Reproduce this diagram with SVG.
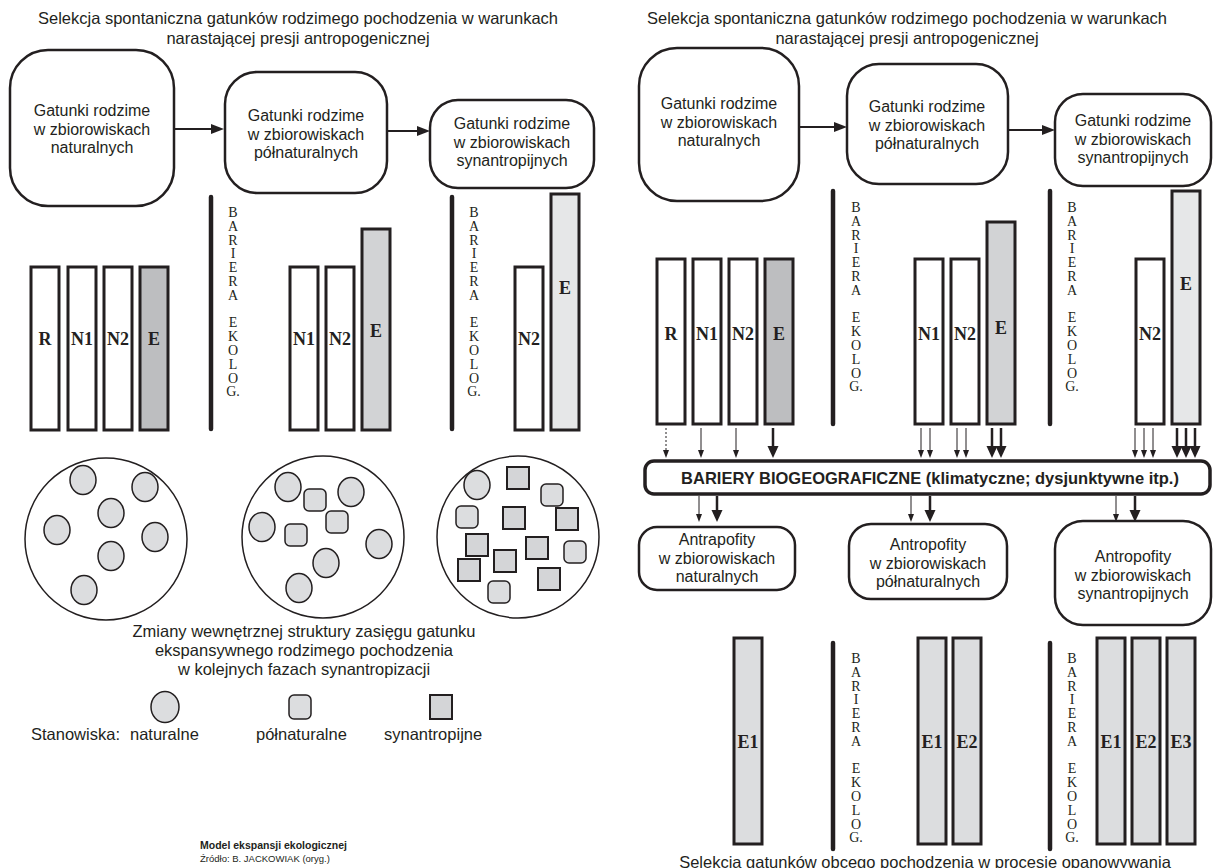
<svg xmlns="http://www.w3.org/2000/svg" width="1215" height="868" viewBox="0 0 1215 868">
<style>
.t{font-family:"Liberation Sans",Arial,sans-serif;font-size:16.5px;fill:#231f20;text-anchor:middle}
.bt{font-family:"Liberation Sans",Arial,sans-serif;font-size:16px;fill:#231f20;text-anchor:middle}
.box{fill:#fff;stroke:#231f20;stroke-width:2.5}
.bar{stroke:#231f20;stroke-width:3}
.w{fill:#fff}.g1{fill:#bdbec0}.g2{fill:#d2d3d5}.g3{fill:#e6e7e8}.g4{fill:#dcdddf}
.bl{font-family:"Liberation Serif","Times New Roman",serif;font-weight:bold;font-size:18px;fill:#231f20;text-anchor:middle}
.vt{font-family:"Liberation Serif","Times New Roman",serif;font-size:14px;fill:#231f20;text-anchor:middle}
.bar-line{stroke:#231f20;stroke-width:4.5;stroke-linecap:round}
.big{fill:#fff;stroke:#231f20;stroke-width:1.5}
.sc{fill:#dcdddf;stroke:#231f20;stroke-width:1.5}
.sr{fill:#dcdddf;stroke:#231f20;stroke-width:1.5}
.ss{fill:#d4d5d7;stroke:#231f20;stroke-width:2}
.conn{stroke:#231f20;stroke-width:2;fill:none}
.thin{stroke:#231f20;stroke-width:1;fill:none}
.dot{stroke:#231f20;stroke-width:1;fill:none;stroke-dasharray:2 2}
.thick{stroke:#231f20;stroke-width:2.5;fill:none}
</style>
<defs>
<marker id="mConn" markerUnits="userSpaceOnUse" markerWidth="13" markerHeight="11" refX="0" refY="5" orient="auto"><path d="M0,0 L13,5 L0,10 z" fill="#231f20"/></marker>
<marker id="mThin" markerUnits="userSpaceOnUse" markerWidth="8" markerHeight="7" refX="0" refY="3" orient="auto"><path d="M0,0 L8,3 L0,6 z" fill="#231f20"/></marker>
<marker id="mThick" markerUnits="userSpaceOnUse" markerWidth="12" markerHeight="12" refX="0" refY="5.5" orient="auto"><path d="M0,0 L12,5.5 L0,11 z" fill="#231f20"/></marker>
</defs>
<rect width="1215" height="868" fill="#fff"/>

<!-- LEFT PANEL -->
<g id="title-left">
<text class="t" x="298" y="24">Selekcja spontaniczna gatunków rodzimego pochodzenia w warunkach</text>
<text class="t" x="298" y="44">narastającej presji antropogenicznej</text>
</g>
<g id="L-box-nat">
<rect class="box" x="10" y="50" width="164" height="156" rx="38"/>
<text class="bt" x="92" y="116">Gatunki rodzime</text>
<text class="bt" x="92" y="134.5">w zbiorowiskach</text>
<text class="bt" x="92" y="153">naturalnych</text>
</g>
<g id="L-box-polnat">
<rect class="box" x="225" y="72" width="162" height="121" rx="32"/>
<text class="bt" x="306" y="121">Gatunki rodzime</text>
<text class="bt" x="306" y="139.5">w zbiorowiskach</text>
<text class="bt" x="306" y="158">półnaturalnych</text>
</g>
<g id="L-box-syn">
<rect class="box" x="430" y="100" width="164" height="88" rx="28"/>
<text class="bt" x="512" y="129">Gatunki rodzime</text>
<text class="bt" x="512" y="147.5">w zbiorowiskach</text>
<text class="bt" x="512" y="166">synantropijnych</text>
</g>

<g id="L-bars-1">
<rect class="bar w" x="31" y="267" width="28" height="163"/>
<rect class="bar w" x="68" y="267" width="28" height="163"/>
<rect class="bar w" x="104" y="267" width="28" height="163"/>
<rect class="bar g1" x="140" y="267" width="28" height="163"/>
<text class="bl" x="45" y="345">R</text>
<text class="bl" x="82" y="345">N1</text>
<text class="bl" x="118" y="345">N2</text>
<text class="bl" x="154" y="345">E</text>
</g>
<g id="L-barrier-1">
<line class="bar-line" x1="211" y1="197" x2="211" y2="429"/>
<text class="vt" y="217"><tspan x="233">B</tspan><tspan x="233" dy="13.8">A</tspan><tspan x="233" dy="13.8">R</tspan><tspan x="233" dy="13.8">I</tspan><tspan x="233" dy="13.8">E</tspan><tspan x="233" dy="13.8">R</tspan><tspan x="233" dy="13.8">A</tspan><tspan x="233" dy="27.6">E</tspan><tspan x="233" dy="13.8">K</tspan><tspan x="233" dy="13.8">O</tspan><tspan x="233" dy="13.8">L</tspan><tspan x="233" dy="13.8">O</tspan><tspan x="233" dy="13.8">G.</tspan></text>
</g>
<g id="L-bars-2">
<rect class="bar w" x="290" y="267" width="28" height="163"/>
<rect class="bar w" x="326" y="267" width="28" height="163"/>
<rect class="bar g2" x="362" y="229" width="28" height="201"/>
<text class="bl" x="304" y="345">N1</text>
<text class="bl" x="340" y="345">N2</text>
<text class="bl" x="376" y="337">E</text>
</g>
<g id="L-barrier-2">
<line class="bar-line" x1="452" y1="197" x2="452" y2="429"/>
<text class="vt" y="217"><tspan x="474">B</tspan><tspan x="474" dy="13.8">A</tspan><tspan x="474" dy="13.8">R</tspan><tspan x="474" dy="13.8">I</tspan><tspan x="474" dy="13.8">E</tspan><tspan x="474" dy="13.8">R</tspan><tspan x="474" dy="13.8">A</tspan><tspan x="474" dy="27.6">E</tspan><tspan x="474" dy="13.8">K</tspan><tspan x="474" dy="13.8">O</tspan><tspan x="474" dy="13.8">L</tspan><tspan x="474" dy="13.8">O</tspan><tspan x="474" dy="13.8">G.</tspan></text>
</g>
<g id="L-bars-3">
<rect class="bar w" x="515" y="267" width="28" height="163"/>
<rect class="bar g3" x="551" y="194" width="28" height="236"/>
<text class="bl" x="529" y="345">N2</text>
<text class="bl" x="565" y="294">E</text>
</g>

<g id="range-1">
<circle class="big" cx="106" cy="539" r="81"/>
<ellipse class="sc" cx="83" cy="480" rx="13" ry="14.5"/>
<ellipse class="sc" cx="145" cy="487" rx="13" ry="14.5"/>
<ellipse class="sc" cx="111" cy="513" rx="13" ry="14.5"/>
<ellipse class="sc" cx="57" cy="530" rx="13" ry="14.5"/>
<ellipse class="sc" cx="155" cy="537" rx="13" ry="14.5"/>
<ellipse class="sc" cx="111" cy="556" rx="13" ry="14.5"/>
<ellipse class="sc" cx="84" cy="590" rx="13" ry="14.5"/>
</g>
<g id="range-2">
<circle class="big" cx="323" cy="537" r="81"/>
<ellipse class="sc" cx="288" cy="487" rx="13" ry="14.5"/>
<ellipse class="sc" cx="351" cy="492" rx="13" ry="14.5"/>
<ellipse class="sc" cx="262" cy="527" rx="13" ry="14.5"/>
<ellipse class="sc" cx="379" cy="544" rx="13" ry="14.5"/>
<ellipse class="sc" cx="326" cy="563" rx="13" ry="14.5"/>
<ellipse class="sc" cx="299" cy="588" rx="13" ry="14.5"/>
<rect class="sr" x="304" y="489" width="22" height="22" rx="5"/>
<rect class="sr" x="326" y="511" width="22" height="22" rx="5"/>
<rect class="sr" x="285" y="524" width="22" height="22" rx="5"/>
</g>
<g id="range-3">
<circle class="big" cx="518" cy="537" r="81"/>
<ellipse class="sc" cx="477" cy="485" rx="13" ry="14.5"/>
<rect class="ss" x="507" y="467" width="22" height="22"/>
<rect class="sr" x="541" y="484" width="22" height="22" rx="5"/>
<rect class="sr" x="456" y="506" width="22" height="22" rx="5"/>
<rect class="ss" x="503" y="507" width="22" height="22"/>
<rect class="ss" x="556" y="508" width="22" height="22"/>
<rect class="ss" x="466" y="534" width="22" height="22"/>
<rect class="ss" x="526" y="537" width="22" height="22"/>
<rect class="sr" x="564" y="541" width="22" height="22" rx="5"/>
<rect class="ss" x="494" y="550" width="22" height="22"/>
<rect class="ss" x="458" y="559" width="22" height="22"/>
<rect class="ss" x="538" y="568" width="22" height="22"/>
<rect class="sr" x="488" y="581" width="22" height="22" rx="5"/>
</g>
<g id="range-caption">
<text class="t" x="304" y="637">Zmiany wewnętrznej struktury zasięgu gatunku</text>
<text class="t" x="304" y="656">ekspansywnego rodzimego pochodzenia</text>
<text class="t" x="304" y="675">w kolejnych fazach synantropizacji</text>
</g>
<g id="legend">
<ellipse class="sc" cx="165" cy="707" rx="14" ry="15.5"/>
<rect class="sr" x="289" y="695" width="22" height="24" rx="5"/>
<rect class="ss" x="430" y="695" width="22" height="24"/>
<text class="t" x="31" y="740" style="text-anchor:start">Stanowiska:</text>
<text class="t" x="130" y="740" style="text-anchor:start">naturalne</text>
<text class="t" x="256" y="740" style="text-anchor:start">półnaturalne</text>
<text class="t" x="384" y="740" style="text-anchor:start">synantropijne</text>
</g>
<g id="source">
<text x="200" y="849" style="font-family:'Liberation Sans',Arial,sans-serif;font-size:10.5px;font-weight:bold;fill:#231f20">Model ekspansji ekologicznej</text>
<text x="200" y="862" style="font-family:'Liberation Sans',Arial,sans-serif;font-size:9.5px;fill:#231f20">Źródło: B. JACKOWIAK (oryg.)</text>
</g>

<!-- RIGHT PANEL -->
<g id="title-right">
<text class="t" x="907" y="24">Selekcja spontaniczna gatunków rodzimego pochodzenia w warunkach</text>
<text class="t" x="907" y="44">narastającej presji antropogenicznej</text>
</g>
<g id="R-box-nat">
<rect class="box" x="639" y="48" width="160" height="153" rx="38"/>
<text class="bt" x="719" y="109">Gatunki rodzime</text>
<text class="bt" x="719" y="127.5">w zbiorowiskach</text>
<text class="bt" x="719" y="146">naturalnych</text>
</g>
<g id="R-box-polnat">
<rect class="box" x="847" y="64" width="161" height="120" rx="32"/>
<text class="bt" x="927" y="112">Gatunki rodzime</text>
<text class="bt" x="927" y="130.5">w zbiorowiskach</text>
<text class="bt" x="927" y="149">półnaturalnych</text>
</g>
<g id="R-box-syn">
<rect class="box" x="1055" y="94" width="156" height="92" rx="28"/>
<text class="bt" x="1133" y="126">Gatunki rodzime</text>
<text class="bt" x="1133" y="144.5">w zbiorowiskach</text>
<text class="bt" x="1133" y="163">synantropijnych</text>
</g>

<g id="R-bars-1">
<rect class="bar w" x="657" y="259" width="28" height="165"/>
<rect class="bar w" x="693" y="259" width="28" height="165"/>
<rect class="bar w" x="729" y="259" width="28" height="165"/>
<rect class="bar g1" x="765" y="259" width="28" height="165"/>
<text class="bl" x="671" y="340">R</text>
<text class="bl" x="707" y="340">N1</text>
<text class="bl" x="743" y="340">N2</text>
<text class="bl" x="779" y="340">E</text>
</g>
<g id="R-barrier-1">
<line class="bar-line" x1="833" y1="191" x2="833" y2="424"/>
<text class="vt" y="212"><tspan x="856">B</tspan><tspan x="856" dy="13.8">A</tspan><tspan x="856" dy="13.8">R</tspan><tspan x="856" dy="13.8">I</tspan><tspan x="856" dy="13.8">E</tspan><tspan x="856" dy="13.8">R</tspan><tspan x="856" dy="13.8">A</tspan><tspan x="856" dy="27.6">E</tspan><tspan x="856" dy="13.8">K</tspan><tspan x="856" dy="13.8">O</tspan><tspan x="856" dy="13.8">L</tspan><tspan x="856" dy="13.8">O</tspan><tspan x="856" dy="13.8">G.</tspan></text>
</g>
<g id="R-bars-2">
<rect class="bar w" x="915" y="259" width="28" height="165"/>
<rect class="bar w" x="951" y="259" width="28" height="165"/>
<rect class="bar g2" x="987" y="222" width="28" height="202"/>
<text class="bl" x="929" y="340">N1</text>
<text class="bl" x="965" y="340">N2</text>
<text class="bl" x="1001" y="334">E</text>
</g>
<g id="R-barrier-2">
<line class="bar-line" x1="1050" y1="191" x2="1050" y2="424"/>
<text class="vt" y="212"><tspan x="1072">B</tspan><tspan x="1072" dy="13.8">A</tspan><tspan x="1072" dy="13.8">R</tspan><tspan x="1072" dy="13.8">I</tspan><tspan x="1072" dy="13.8">E</tspan><tspan x="1072" dy="13.8">R</tspan><tspan x="1072" dy="13.8">A</tspan><tspan x="1072" dy="27.6">E</tspan><tspan x="1072" dy="13.8">K</tspan><tspan x="1072" dy="13.8">O</tspan><tspan x="1072" dy="13.8">L</tspan><tspan x="1072" dy="13.8">O</tspan><tspan x="1072" dy="13.8">G.</tspan></text>
</g>
<g id="R-bars-3">
<rect class="bar w" x="1136" y="259" width="28" height="165"/>
<rect class="bar g3" x="1172" y="191" width="28" height="233"/>
<text class="bl" x="1186" y="290">E</text>
<text class="bl" x="1150" y="340">N2</text>
</g>

<g id="bariery-bio">
<rect x="645" y="461" width="565" height="33" rx="9" fill="#fff" stroke="#231f20" stroke-width="3.5"/>
<text x="930" y="484" style="font-family:'Liberation Sans',Arial,sans-serif;font-size:16.5px;font-weight:bold;fill:#231f20;text-anchor:middle">BARIERY BIOGEOGRAFICZNE (klimatyczne; dysjunktywne itp.)</text>
</g>

<g id="antro-nat">
<rect class="box" x="639" y="527" width="156" height="63" rx="18"/>
<text class="bt" x="717" y="545">Antrapofity</text>
<text class="bt" x="717" y="563.5">w zbiorowiskach</text>
<text class="bt" x="717" y="582">naturalnych</text>
</g>
<g id="antro-polnat">
<rect class="box" x="849" y="524" width="158" height="75" rx="22"/>
<text class="bt" x="928" y="550">Antropofity</text>
<text class="bt" x="928" y="568.5">w zbiorowiskach</text>
<text class="bt" x="928" y="587">półnaturalnych</text>
</g>
<g id="antro-syn">
<rect class="box" x="1055" y="521" width="156" height="104" rx="28"/>
<text class="bt" x="1133" y="562">Antropofity</text>
<text class="bt" x="1133" y="580.5">w zbiorowiskach</text>
<text class="bt" x="1133" y="599">synantropijnych</text>
</g>

<g id="R-bars-4">
<rect class="bar g4" x="734" y="638" width="28" height="206"/>
<text class="bl" x="748" y="748">E1</text>
</g>
<g id="R-barrier-3">
<line class="bar-line" x1="833" y1="643" x2="833" y2="849"/>
<text class="vt" y="663"><tspan x="856">B</tspan><tspan x="856" dy="13.8">A</tspan><tspan x="856" dy="13.8">R</tspan><tspan x="856" dy="13.8">I</tspan><tspan x="856" dy="13.8">E</tspan><tspan x="856" dy="13.8">R</tspan><tspan x="856" dy="13.8">A</tspan><tspan x="856" dy="27.6">E</tspan><tspan x="856" dy="13.8">K</tspan><tspan x="856" dy="13.8">O</tspan><tspan x="856" dy="13.8">L</tspan><tspan x="856" dy="13.8">O</tspan><tspan x="856" dy="13.8">G.</tspan></text>
</g>
<g id="R-bars-5">
<rect class="bar g4" x="918" y="638" width="28" height="206"/>
<rect class="bar g4" x="953" y="638" width="28" height="206"/>
<text class="bl" x="932" y="748">E1</text>
<text class="bl" x="967" y="748">E2</text>
</g>
<g id="R-barrier-4">
<line class="bar-line" x1="1050" y1="643" x2="1050" y2="849"/>
<text class="vt" y="663"><tspan x="1072">B</tspan><tspan x="1072" dy="13.8">A</tspan><tspan x="1072" dy="13.8">R</tspan><tspan x="1072" dy="13.8">I</tspan><tspan x="1072" dy="13.8">E</tspan><tspan x="1072" dy="13.8">R</tspan><tspan x="1072" dy="13.8">A</tspan><tspan x="1072" dy="27.6">E</tspan><tspan x="1072" dy="13.8">K</tspan><tspan x="1072" dy="13.8">O</tspan><tspan x="1072" dy="13.8">L</tspan><tspan x="1072" dy="13.8">O</tspan><tspan x="1072" dy="13.8">G.</tspan></text>
</g>
<g id="R-bars-6">
<rect class="bar g4" x="1097" y="638" width="28" height="206"/>
<rect class="bar g4" x="1132" y="638" width="28" height="206"/>
<rect class="bar g4" x="1167" y="638" width="28" height="206"/>
<text class="bl" x="1111" y="748">E1</text>
<text class="bl" x="1146" y="748">E2</text>
<text class="bl" x="1181" y="748">E3</text>
</g>
<g id="title-bottom">
<text class="t" x="925" y="868">Selekcja gatunków obcego pochodzenia w procesie opanowywania</text>
</g>

<g id="connectors">
<line class="conn" x1="175" y1="129" x2="211" y2="129" marker-end="url(#mConn)"/>
<line class="conn" x1="388" y1="131" x2="417" y2="131" marker-end="url(#mConn)"/>
<line class="conn" x1="800" y1="127" x2="834" y2="127" marker-end="url(#mConn)"/>
<line class="conn" x1="1009" y1="130" x2="1042" y2="130" marker-end="url(#mConn)"/>
<line class="dot" x1="666" y1="428" x2="666" y2="450" marker-end="url(#mThin)"/>
<line class="thin" x1="701" y1="428" x2="701" y2="450" marker-end="url(#mThin)"/>
<line class="thin" x1="736" y1="428" x2="736" y2="450" marker-end="url(#mThin)"/>
<line class="thick" x1="773" y1="428" x2="773" y2="446" marker-end="url(#mThick)"/>
<line class="thin" x1="921" y1="428" x2="921" y2="450" marker-end="url(#mThin)"/>
<line class="thin" x1="930" y1="428" x2="930" y2="450" marker-end="url(#mThin)"/>
<line class="thin" x1="957" y1="428" x2="957" y2="450" marker-end="url(#mThin)"/>
<line class="thin" x1="966" y1="428" x2="966" y2="450" marker-end="url(#mThin)"/>
<line class="thick" x1="992" y1="428" x2="992" y2="446" marker-end="url(#mThick)"/>
<line class="thick" x1="1001" y1="428" x2="1001" y2="446" marker-end="url(#mThick)"/>
<line class="thin" x1="1135" y1="428" x2="1135" y2="450" marker-end="url(#mThin)"/>
<line class="thin" x1="1144" y1="428" x2="1144" y2="450" marker-end="url(#mThin)"/>
<line class="thin" x1="1153" y1="428" x2="1153" y2="450" marker-end="url(#mThin)"/>
<line class="thick" x1="1177" y1="428" x2="1177" y2="446" marker-end="url(#mThick)"/>
<line class="thick" x1="1186" y1="428" x2="1186" y2="446" marker-end="url(#mThick)"/>
<line class="thick" x1="1195" y1="428" x2="1195" y2="446" marker-end="url(#mThick)"/>
<line class="thin" x1="699" y1="496" x2="699" y2="514" marker-end="url(#mThin)"/>
<line class="thick" x1="717" y1="496" x2="717" y2="510" marker-end="url(#mThick)"/>
<line class="thin" x1="911" y1="496" x2="911" y2="514" marker-end="url(#mThin)"/>
<line class="thick" x1="930" y1="496" x2="930" y2="510" marker-end="url(#mThick)"/>
<line class="thin" x1="1116" y1="496" x2="1116" y2="514" marker-end="url(#mThin)"/>
<line class="thick" x1="1135" y1="496" x2="1135" y2="510" marker-end="url(#mThick)"/>
</g>
</svg>
